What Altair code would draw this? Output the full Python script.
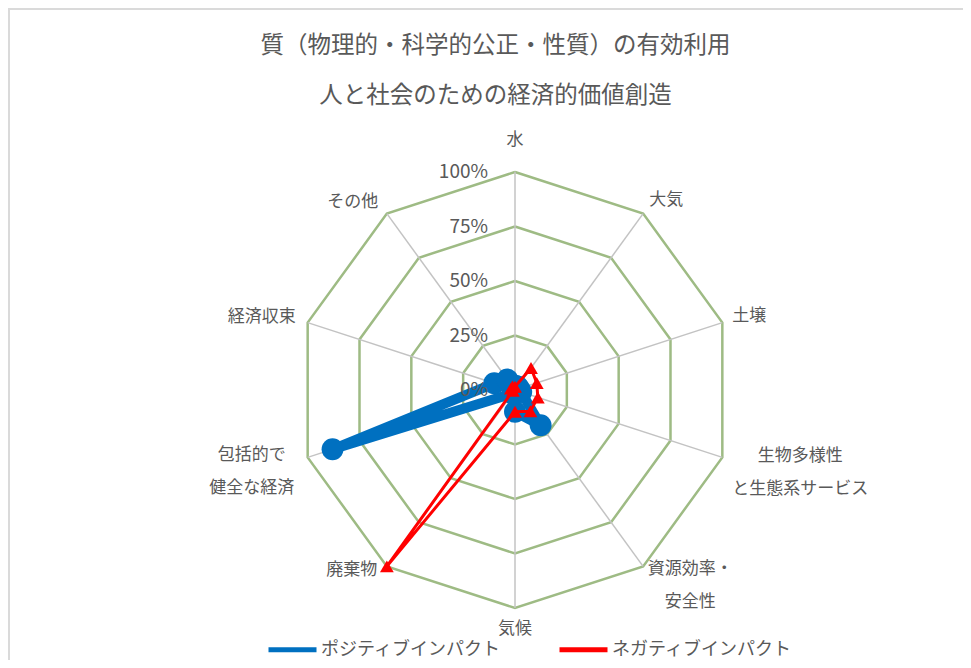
import altair as alt
import pandas as pd

# ---------------- data ----------------
categories = ["水", "大気", "土壌", "生物多様性と生態系サービス", "資源効率・安全性",
              "気候", "廃棄物", "包括的で健全な経済", "経済収束", "その他"]
category_labels = ["水", "大気", "土壌", "生物多様性\nと生態系サービス", "資源効率・\n安全性",
                   "気候", "廃棄物", "包括的で\n健全な経済", "経済収束", "その他"]
positive_impact = [0.02, 0.02, 0.02, 0.03, 0.20, 0.10, 0.02, 0.88, 0.10, 0.06]
negative_impact = [0.015, 0.125, 0.105, 0.11, 0.12, 0.10, 1.00, 0.01, 0.02, 0.02]
series_names = ["ポジティブインパクト", "ネガティブインパクト"]
series_colors = ["#0070C0", "#FF0000"]
grid_levels = [0.25, 0.5, 0.75, 1.0]
tick_values = [0.0, 0.25, 0.5, 0.75, 1.0]
tick_labels = ["0%", "25%", "50%", "75%", "100%"]
chart_title = ["質（物理的・科学的公正・性質）の有効利用", "人と社会のための経済的価値創造"]

# ---------------- layout ----------------
N = len(categories)
W, H_TOTAL = 955, 652
PAD_TOP = 120
H = H_TOTAL - PAD_TOP
PX = 218.0            # pixels per 100 %
CX, CY = 507.0, 262.0  # centre of the radar inside the view (pixels)
FONT = "Noto Sans CJK JP"
TEXT_COLOR = "#595959"
GRID_COLOR = "#9EBB84"
SPOKE_COLOR = "#C3C3C3"
BORDER_Y = -PAD_TOP + 1
# pixel offsets of category labels from their 100 % vertex
label_offsets = [(0, -32), (23, -14), (27, -7), (78, -1), (47, 3),
                 (0, 21), (-35, 4), (-56, -2), (-46, -6), (-34, -12)]

x_scale = alt.Scale(domain=[-CX / PX, (W - CX) / PX], nice=False, zero=False)
y_scale = alt.Scale(domain=[-(H - CY) / PX, CY / PX], nice=False, zero=False)

ANG = f"(datum.k * 2 * PI / {N})"
calc_x = f"datum.r * sin{ANG}"
calc_y = f"datum.r * cos{ANG}"


def X(field="x"):
    return alt.X(f"{field}:Q", scale=x_scale, axis=None)


def Y(field="y"):
    return alt.Y(f"{field}:Q", scale=y_scale, axis=None)


# ---------------- tables ----------------
series_rows = []
for name, vals in zip(series_names, [positive_impact, negative_impact]):
    for i in range(N + 1):
        series_rows.append({"series": name, "k": i % N, "order": i, "r": vals[i % N]})
series_df = pd.DataFrame(series_rows)

grid_rows = []
for lev in grid_levels:
    for i in range(N + 1):
        grid_rows.append({"level": lev, "k": i % N, "order": i, "r": lev})
grid_df = pd.DataFrame(grid_rows)

spoke_df = pd.DataFrame({"k": list(range(N)), "r": [1.0] * N, "r0": [0.0] * N})
tick_df = pd.DataFrame({"k": [0] * len(tick_values), "r": tick_values, "label": tick_labels})
label_df = pd.DataFrame({
    "k": list(range(N)),
    "r": [1.0] * N,
    "label": category_labels,
    "ox": [o[0] for o in label_offsets],
    "oy": [o[1] for o in label_offsets],
})

# ---------------- layers ----------------
dummy = pd.DataFrame({"a": [0]})
border_top = alt.Chart(dummy).mark_rule(color="#DADADA", strokeWidth=2).encode(
    x=alt.value(0), x2=alt.value(W), y=alt.value(BORDER_Y))
border_left = alt.Chart(dummy).mark_rule(color="#DADADA", strokeWidth=2).encode(
    x=alt.value(1), y=alt.value(BORDER_Y), y2=alt.value(H))

spokes = alt.Chart(spoke_df).transform_calculate(
    x=calc_x, y=calc_y, x0=f"datum.r0 * sin{ANG}", y0=f"datum.r0 * cos{ANG}"
).mark_rule(color=SPOKE_COLOR, strokeWidth=1.5).encode(
    x=X("x0"), y=Y("y0"), x2="x:Q", y2="y:Q")

grid = alt.Chart(grid_df).transform_calculate(x=calc_x, y=calc_y).mark_line(
    color=GRID_COLOR, strokeWidth=2.5, strokeJoin="miter"
).encode(x=X(), y=Y(), detail="level:N", order="order:Q")

ticks = alt.Chart(tick_df).transform_calculate(x=calc_x, y=calc_y).mark_text(
    align="right", baseline="middle", dx=-27, font=FONT, fontSize=19, color=TEXT_COLOR
).encode(x=X(), y=Y(), text="label:N")

labels = alt.Chart(label_df).transform_calculate(
    x=f"{calc_x} + datum.ox / {PX}", y=f"{calc_y} - datum.oy / {PX}"
).mark_text(
    align="center", baseline="middle", lineBreak="\n", lineHeight=33,
    font=FONT, fontSize=17, color=TEXT_COLOR
).encode(x=X(), y=Y(), text="label:N")

color_enc = alt.Color(
    "series:N",
    scale=alt.Scale(domain=series_names, range=series_colors),
    legend=alt.Legend(
        orient="none", legendX=258, legendY=495, direction="horizontal", columns=2,
        title=None, symbolType="stroke", symbolSize=2304, symbolStrokeWidth=5,
        labelFont=FONT, labelFontSize=18, labelColor=TEXT_COLOR, labelOffset=2,
        labelLimit=0, columnPadding=48, padding=0),
)


def series_line(name, width):
    return alt.Chart(series_df).transform_filter(
        alt.datum.series == name
    ).transform_calculate(x=calc_x, y=calc_y).mark_line(
        strokeWidth=width, strokeJoin="round"
    ).encode(x=X(), y=Y(), color=color_enc, order="order:Q")


def series_points(name, shape, size, color):
    return alt.Chart(series_df).transform_filter(
        (alt.datum.series == name) & (alt.datum.order < N)
    ).transform_calculate(x=calc_x, y=calc_y).mark_point(
        shape=shape, size=size, filled=True, opacity=1, color=color
    ).encode(x=X(), y=Y())


pos_line = series_line(series_names[0], 10)
pos_pts = series_points(series_names[0], "circle", 480, series_colors[0])
neg_line = series_line(series_names[1], 3)
neg_pts = series_points(series_names[1], "triangle-up", 190, series_colors[1])

chart = alt.layer(
    border_top, border_left, grid, spokes, labels,
    pos_line, pos_pts, neg_line, neg_pts, ticks
).properties(
    width=W, height=H,
    title=alt.Title(chart_title, font=FONT, fontSize=23.5, fontWeight="normal",
                    color=TEXT_COLOR, lineHeight=50, anchor="middle", dx=10, offset=-99),
    padding={"left": 0, "right": 0, "top": PAD_TOP, "bottom": 0},
    autosize=alt.AutoSizeParams(type="none"),
).configure_view(stroke=None)

chart.save("out.html", embed_options={"renderer": "svg", "actions": False})
